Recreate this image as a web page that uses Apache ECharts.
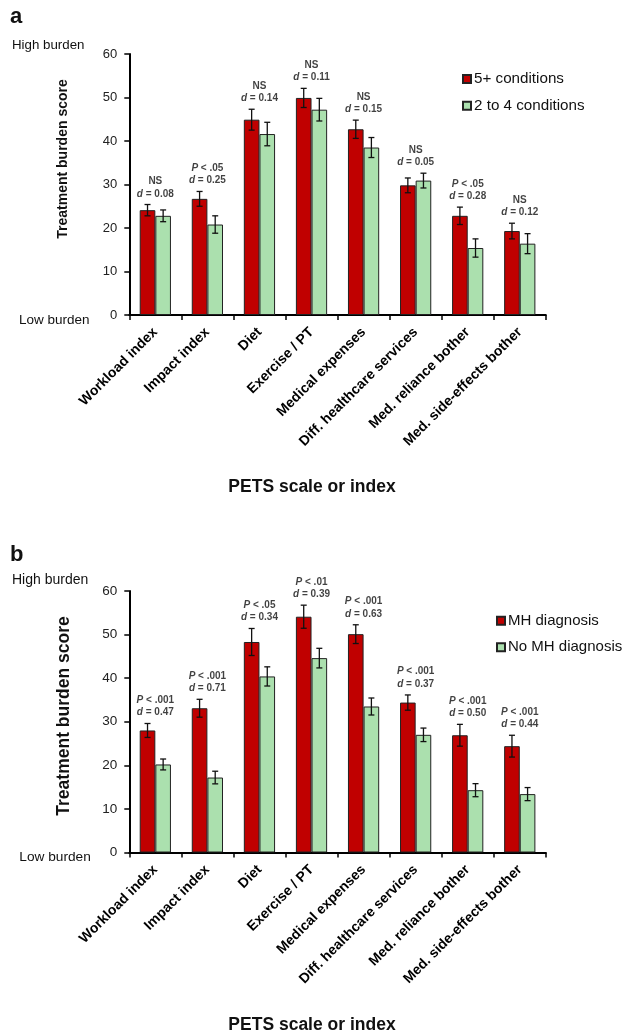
<!DOCTYPE html>
<html><head><meta charset="utf-8">
<script src="https://cdn.jsdelivr.net/npm/echarts@6/dist/echarts.min.js"></script>
<style>html,body{margin:0;padding:0;background:#fff}#c{width:624px;height:1035px}</style>
</head><body><div id="c"></div>
<script>
const categories = ['Workload index','Impact index','Diet','Exercise / PT','Medical expenses','Diff. healthcare services','Med. reliance bother','Med. side-effects bother'];
const yTickMin = 0, yTickMax = 60, yTickStep = 10;

// Panel a
const aNames = ['5+ conditions','2 to 4 conditions'];
const aRed = [24.1,26.7,44.9,49.9,42.7,29.8,22.8,19.3];
const aRedErr = [1.3,1.7,2.4,2.2,2.1,1.7,2.0,1.8];
const aGreen = [22.8,20.8,41.6,47.2,38.5,30.9,15.4,16.4];
const aGreenErr = [1.35,2.0,2.7,2.6,2.3,1.7,2.1,2.3];
const aP = ['NS','P < .05','NS','NS','NS','NS','P < .05','NS'];
const aD = ['0.08','0.25','0.14','0.11','0.15','0.05','0.28','0.12'];

// Panel b
const bNames = ['MH diagnosis','No MH diagnosis'];
const bRed = [28.0,33.1,48.3,54.1,50.1,34.4,26.9,24.4];
const bRedErr = [1.6,2.05,3.1,2.65,2.15,1.75,2.5,2.5];
const bGreen = [20.2,17.2,40.4,44.6,33.5,27.0,14.3,13.4];
const bGreenErr = [1.25,1.45,2.2,2.25,1.95,1.55,1.5,1.5];
const bP = ['P < .001','P < .001','P < .05','P < .01','P < .001','P < .001','P < .001','P < .001'];
const bD = ['0.47','0.71','0.34','0.39','0.63','0.37','0.50','0.44'];

const FONT = 'Arial, "Liberation Sans", Helvetica, sans-serif';
const RED = '#C00000', GREEN = '#ABE0AE', EDGE = '#222';

function errRender(side){
  return function(params, api){
    const i = api.value(0), v = api.value(1), e = api.value(2);
    const bw = api.size([1,0])[0];
    const x = api.coord([i, v])[0] + side*bw*0.15;
    const yt = api.coord([i, v+e])[1], yb = api.coord([i, v-e])[1];
    const cap = 3;
    const st = {stroke:'#111', lineWidth:1.3};
    return {type:'group', children:[
      {type:'line', shape:{x1:x,y1:yt,x2:x,y2:yb}, style:st},
      {type:'line', shape:{x1:x-cap,y1:yt,x2:x+cap,y2:yt}, style:st},
      {type:'line', shape:{x1:x-cap,y1:yb,x2:x+cap,y2:yb}, style:st}
    ]};
  };
}

function annotFormatter(P, D){
  return function(p){
    const i = p.dataIndex;
    const first = P[i] === 'NS' ? '{b|NS}' : '{i|P}{b|' + P[i].slice(1) + '}';
    return first + '\n{i|d}{b| = ' + D[i] + '}';
  };
}

function panelSeries(idx, names, red, redErr, green, greenErr, P, D, fs){
  const ax = {xAxisIndex: idx, yAxisIndex: idx};
  return [
    Object.assign({type:'bar', name:names[0], data:red, barWidth:'30%', barGap:'0%',
      itemStyle:{color:RED, borderColor:EDGE, borderWidth:1}}, ax),
    Object.assign({type:'bar', name:names[1], data:green, barWidth:'30%', barGap:'0%',
      itemStyle:{color:GREEN, borderColor:EDGE, borderWidth:1}}, ax),
    Object.assign({type:'custom', renderItem:errRender(-1), z:5, encode:{x:0,y:1},
      data: red.map((v,i)=>[i, v, redErr[i]])}, ax),
    Object.assign({type:'custom', renderItem:errRender(1), z:5, encode:{x:0,y:1},
      data: green.map((v,i)=>[i, v, greenErr[i]])}, ax),
    Object.assign({type:'scatter', symbolSize:1, itemStyle:{color:'rgba(0,0,0,0)'}, z:6,
      data: red.map((v,i)=>[i, Math.max(v+redErr[i], green[i]+greenErr[i])]),
      label:{show:true, position:'top', distance:4, formatter:annotFormatter(P, D),
        rich:{
          i:{fontFamily:FONT, fontStyle:'italic', fontWeight:'bold', fontSize:fs, color:'#111', lineHeight:12.5},
          b:{fontFamily:FONT, fontWeight:'bold', fontSize:fs, color:'#111', lineHeight:12.5}
        }}}, ax)
  ];
}

function xAxisDef(idx){
  return {type:'category', gridIndex:idx, data:categories,
    axisLine:{lineStyle:{color:'#000', width:2}},
    axisTick:{show:true, length:5, lineStyle:{color:'#000', width:1.5}},
    axisLabel:{rotate:45, margin:15, interval:0, fontFamily:FONT, fontWeight:'bold', fontSize:14, color:'#000'}};
}
function yAxisDef(idx, fs, margin){
  return {type:'value', gridIndex:idx, min:yTickMin, max:yTickMax, interval:yTickStep,
    splitLine:{show:false},
    axisLine:{show:true, lineStyle:{color:'#000', width:2}},
    axisTick:{show:true, length:5, lineStyle:{color:'#000', width:1.5}},
    axisLabel:{margin:margin, fontFamily:FONT, fontSize:fs, color:'#222'}};
}

function txt(x, y, text, size, weight, opts){
  return Object.assign({type:'text', x:x, y:y, style:{text:text, fontFamily:FONT, fontSize:size,
    fontWeight:weight||'normal', fill:'#111', align:'left', verticalAlign:'middle'}}, opts||{});
}

const chart = echarts.init(document.getElementById('c'), null, {renderer:'canvas'});
chart.setOption({
  animation:false,
  backgroundColor:'#fff',
  grid:[
    {left:129.3, top:54, width:416.5, height:261},
    {left:129.3, top:591, width:416.5, height:261.5}
  ],
  xAxis:[xAxisDef(0), xAxisDef(1)],
  yAxis:[yAxisDef(0, 13, 12), yAxisDef(1, 13.5, 12)],
  legend:[
    {data:aNames, orient:'vertical', left:462, top:70, padding:0, itemGap:8.7, itemWidth:8, itemHeight:8,
      icon:'rect', textStyle:{fontFamily:FONT, fontSize:15.2, color:'#111', lineHeight:18, padding:[0,0,0,-2]}},
    {data:bNames, orient:'vertical', left:496, top:611.7, padding:0, itemGap:8.6, itemWidth:8, itemHeight:8,
      icon:'rect', textStyle:{fontFamily:FONT, fontSize:15, color:'#111', lineHeight:18, padding:[0,0,0,-2]}}
  ],
  series: [].concat(
    panelSeries(0, aNames, aRed, aRedErr, aGreen, aGreenErr, aP, aD, 10),
    panelSeries(1, bNames, bRed, bRedErr, bGreen, bGreenErr, bP, bD, 10)
  ),
  graphic:[
    txt(10, 17.3, 'a', 22, 'bold'),
    txt(10, 555.3, 'b', 22, 'bold'),
    txt(12, 45, 'High burden', 13.3),
    txt(19, 320.7, 'Low burden', 13.5),
    txt(12, 580, 'High burden', 14),
    txt(19.3, 857.3, 'Low burden', 13.7),
    {type:'text', x:63.3, y:159, rotation:Math.PI/2,
      style:{text:'Treatment burden score', fontFamily:FONT, fontSize:14, fontWeight:'bold', fill:'#111', align:'center', verticalAlign:'middle'}},
    {type:'text', x:64, y:716, rotation:Math.PI/2,
      style:{text:'Treatment burden score', fontFamily:FONT, fontSize:17.5, fontWeight:'bold', fill:'#111', align:'center', verticalAlign:'middle'}},
    {type:'text', x:312, y:487, style:{text:'PETS scale or index', fontFamily:FONT, fontSize:17.5, fontWeight:'bold', fill:'#111', align:'center', verticalAlign:'middle'}},
    {type:'text', x:312, y:1025, style:{text:'PETS scale or index', fontFamily:FONT, fontSize:17.5, fontWeight:'bold', fill:'#111', align:'center', verticalAlign:'middle'}}
  ]
});
</script></body></html>
